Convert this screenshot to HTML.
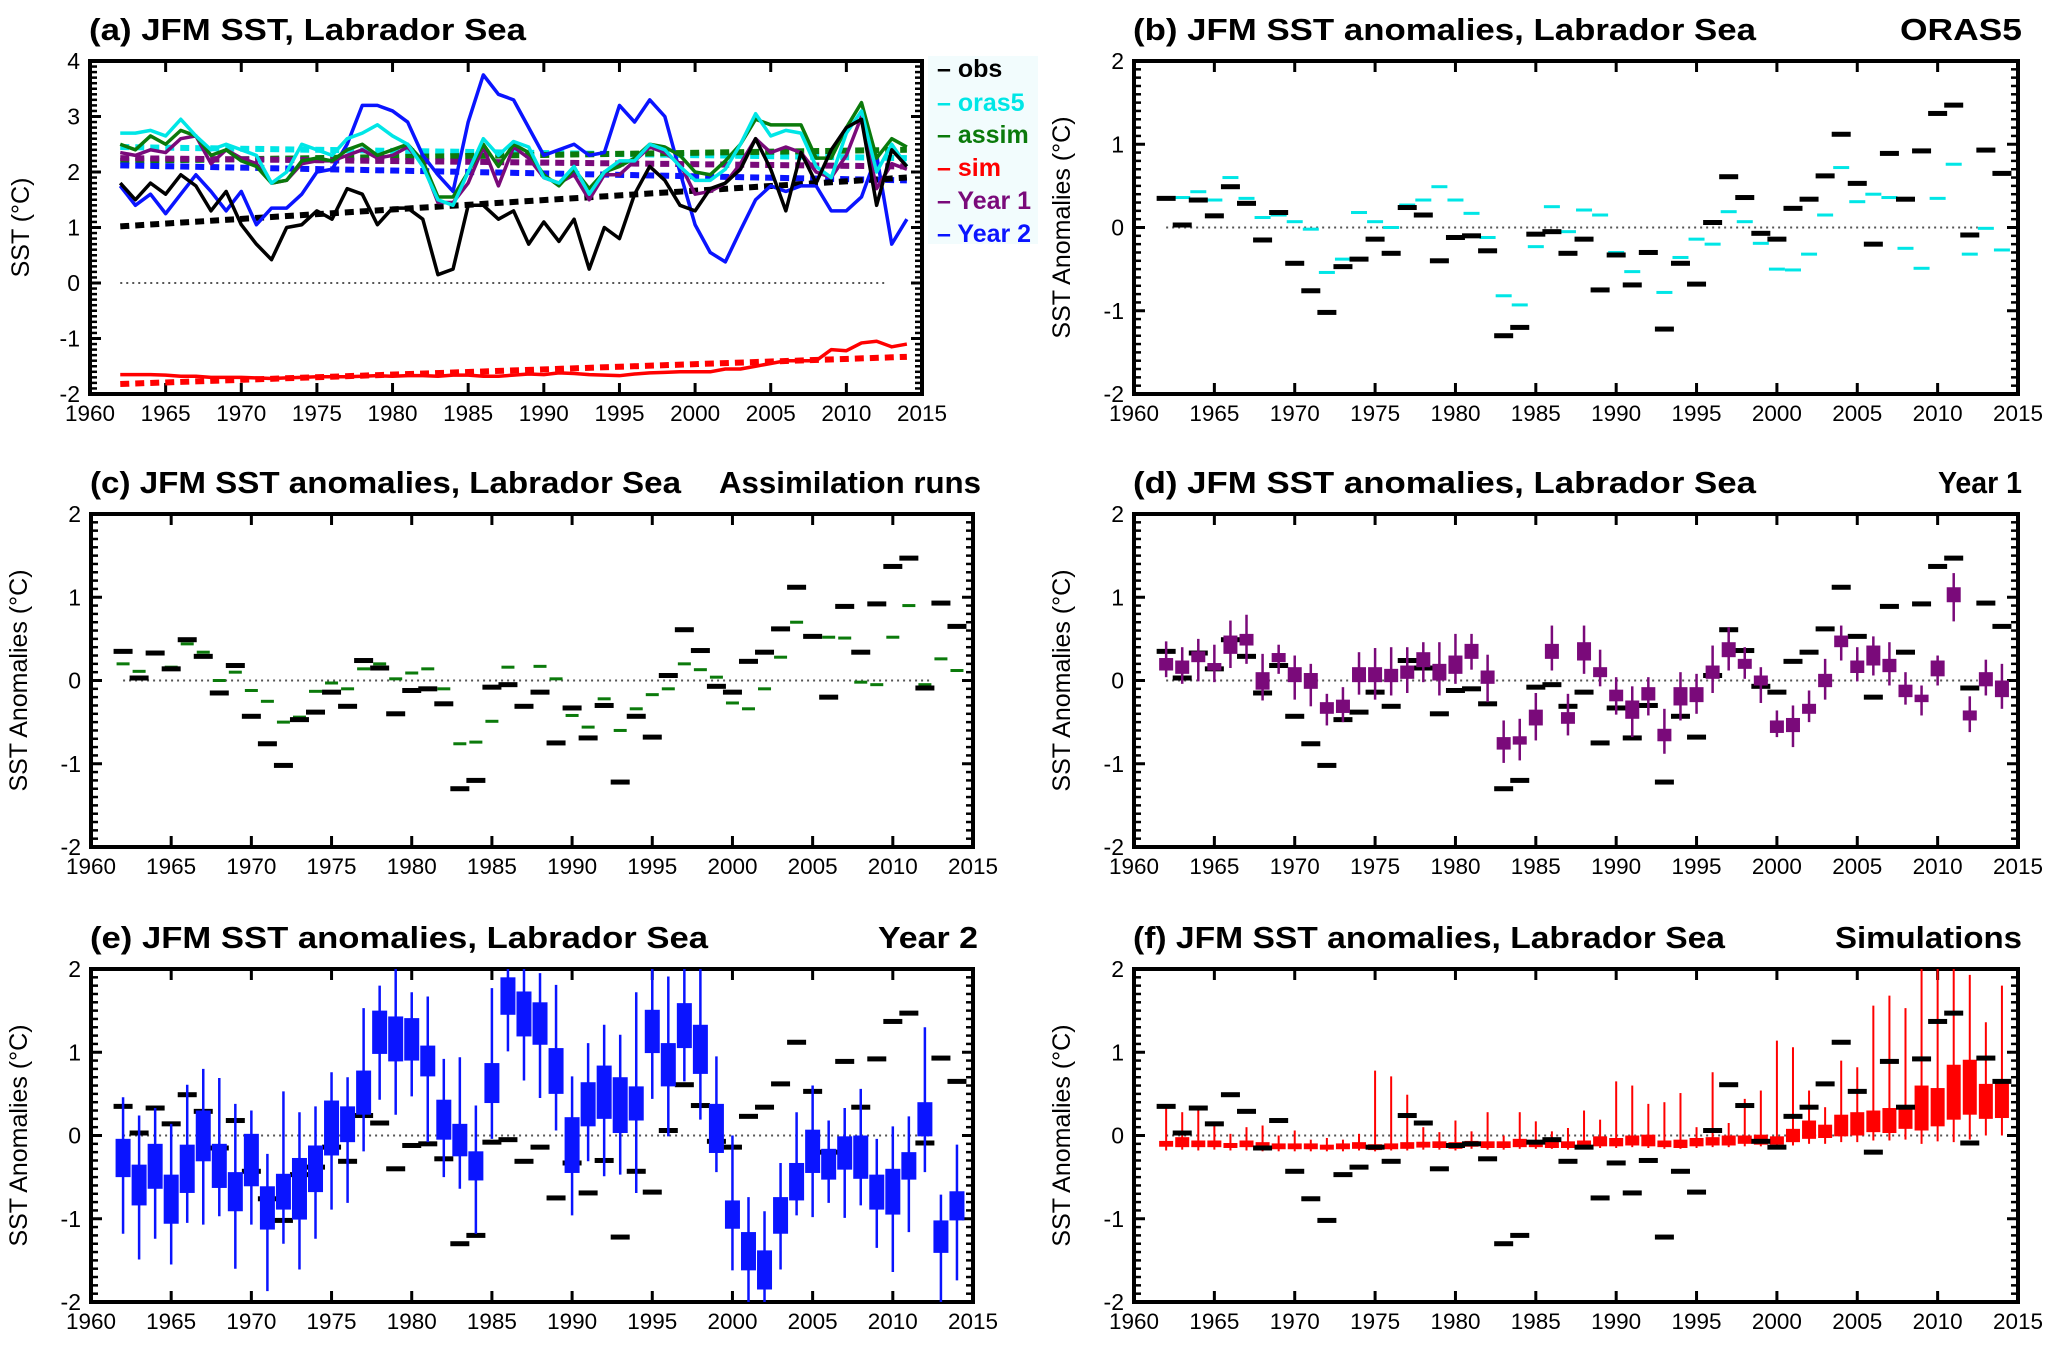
<!DOCTYPE html>
<html><head><meta charset="utf-8"><style>
html,body{margin:0;padding:0;background:#fff;}
svg{display:block;font-family:"Liberation Sans",sans-serif;}
</style></head><body>
<svg id="fig" width="2067" height="1355" viewBox="0 0 2067 1355" xmlns="http://www.w3.org/2000/svg"></svg>
<script>
// ---- data ----
const years = [1962,1963,1964,1965,1966,1967,1968,1969,1970,1971,1972,1973,1974,1975,1976,1977,1978,1979,1980,1981,1982,1983,1984,1985,1986,1987,1988,1989,1990,1991,1992,1993,1994,1995,1996,1997,1998,1999,2000,2001,2002,2003,2004,2005,2006,2007,2008,2009,2010,2011,2012,2013,2014];
const xTicks = [1960,1965,1970,1975,1980,1985,1990,1995,2000,2005,2010,2015];
const yTicksA = [-2,-1,0,1,2,3,4];
const yTicksAnom = [-2,-1,0,1,2];
// panel (a) absolute SST
const obsAbs = [1.8,1.5,1.8,1.6,1.95,1.75,1.3,1.65,1.05,0.7,0.42,1.0,1.05,1.3,1.15,1.7,1.6,1.05,1.35,1.35,1.15,0.15,0.25,1.4,1.4,1.15,1.3,0.7,1.1,0.75,1.15,0.25,1.0,0.8,1.6,2.1,1.85,1.4,1.3,1.7,1.8,2.05,2.6,2.05,1.3,2.35,1.8,2.4,2.8,2.95,1.4,2.4,2.1];
const orasAbs = [2.7,2.7,2.75,2.65,2.95,2.65,2.4,2.5,2.4,2.3,1.8,2.0,2.5,2.4,2.3,2.6,2.7,2.85,2.65,2.5,2.1,1.5,1.4,2.0,2.6,2.3,2.55,2.45,1.9,1.8,2.1,1.6,2.0,2.2,2.2,2.5,2.4,2.1,1.85,1.85,2.05,2.5,3.05,2.65,2.75,2.7,2.1,1.9,2.7,3.1,2.0,2.5,2.1];
const assimAbs = [2.5,2.4,2.65,2.5,2.75,2.65,2.3,2.4,2.2,2.1,1.8,1.85,2.2,2.25,2.2,2.4,2.5,2.3,2.4,2.5,2.2,1.55,1.55,2.0,2.5,2.1,2.5,2.35,1.95,1.75,2.05,1.7,2.0,2.1,2.25,2.5,2.45,2.3,2.0,1.95,2.2,2.5,2.95,2.85,2.85,2.85,2.25,2.25,2.8,3.25,2.25,2.6,2.45];
const simAbs = [-1.65,-1.65,-1.65,-1.66,-1.68,-1.68,-1.7,-1.7,-1.7,-1.71,-1.72,-1.71,-1.7,-1.69,-1.69,-1.69,-1.68,-1.67,-1.68,-1.67,-1.67,-1.68,-1.66,-1.66,-1.68,-1.68,-1.66,-1.64,-1.65,-1.62,-1.63,-1.65,-1.66,-1.67,-1.64,-1.62,-1.61,-1.6,-1.6,-1.6,-1.55,-1.55,-1.5,-1.45,-1.4,-1.4,-1.4,-1.2,-1.22,-1.08,-1.05,-1.15,-1.1];
const y1Abs = [2.35,2.3,2.4,2.35,2.6,2.65,2.15,2.4,2.25,2.15,1.8,1.85,2.15,2.2,2.2,2.3,2.4,2.25,2.3,2.45,2.15,1.45,1.45,1.8,2.45,1.75,2.45,2.25,1.9,1.8,1.95,1.5,1.95,1.95,2.2,2.45,2.35,2.15,1.6,1.65,1.8,2.15,2.6,2.35,2.45,2.35,2.0,1.9,2.3,3.0,1.7,2.15,2.05];
const y2Abs = [1.75,1.4,1.6,1.25,1.6,1.95,1.65,1.3,1.65,1.05,1.35,1.35,1.6,2.0,2.05,2.5,3.2,3.2,3.1,2.9,2.3,1.95,1.65,2.9,3.75,3.4,3.3,2.8,2.3,2.4,2.5,2.3,2.35,3.2,2.9,3.3,3.0,2.0,1.05,0.55,0.38,0.95,1.5,1.75,1.65,1.75,1.75,1.3,1.3,1.55,2.3,0.7,1.15];
// linear trend endpoints (1962, 2014)
const trendObs = [1.02,1.9];
const trendOras = [2.45,2.25];
const trendAssim = [2.2,2.4];
const trendSim = [-1.82,-1.33];
const trendY1 = [2.25,2.1];
const trendY2 = [2.12,1.85];
// anomalies
const obsAnom = [0.35,0.03,0.33,0.14,0.49,0.29,-0.15,0.18,-0.43,-0.76,-1.02,-0.47,-0.38,-0.14,-0.31,0.24,0.15,-0.40,-0.12,-0.10,-0.28,-1.30,-1.20,-0.08,-0.05,-0.31,-0.14,-0.75,-0.33,-0.69,-0.30,-1.22,-0.43,-0.68,0.06,0.61,0.36,-0.07,-0.14,0.23,0.34,0.62,1.12,0.53,-0.20,0.89,0.34,0.92,1.37,1.47,-0.09,0.93,0.65];
const orasAnom = [0.35,0.36,0.43,0.33,0.60,0.35,0.12,0.15,0.07,-0.02,-0.54,-0.38,0.18,0.07,0.00,0.27,0.33,0.49,0.33,0.17,-0.12,-0.82,-0.93,-0.23,0.25,-0.05,0.21,0.15,-0.30,-0.53,-0.30,-0.78,-0.36,-0.14,-0.20,0.19,0.07,-0.19,-0.50,-0.51,-0.32,0.15,0.72,0.31,0.40,0.36,-0.25,-0.49,0.35,0.76,-0.32,-0.01,-0.27];
const assimAnom = [0.20,0.11,0.33,0.16,0.44,0.34,0.00,0.10,-0.12,-0.25,-0.50,-0.44,-0.13,-0.03,-0.10,0.14,0.20,0.02,0.09,0.14,-0.10,-0.76,-0.74,-0.49,0.16,-0.31,0.17,0.02,-0.42,-0.56,-0.22,-0.60,-0.34,-0.17,-0.10,0.20,0.13,0.04,-0.27,-0.34,-0.10,0.28,0.70,0.53,0.52,0.51,-0.02,-0.05,0.52,0.90,-0.05,0.26,0.12];
// Year 1 ensemble: box top/bottom, whisker top/bottom
const y1BoxHi = [0.27,0.24,0.35,0.21,0.54,0.56,0.10,0.33,0.16,0.09,-0.26,-0.23,0.16,0.16,0.14,0.18,0.34,0.20,0.30,0.44,0.12,-0.68,-0.67,-0.35,0.44,-0.38,0.46,0.16,-0.11,-0.24,-0.08,-0.58,-0.08,-0.08,0.18,0.46,0.26,0.06,-0.48,-0.45,-0.28,0.08,0.54,0.24,0.42,0.26,-0.05,-0.17,0.24,1.12,-0.36,0.10,0.00];
const y1BoxLo = [0.12,0.08,0.22,0.12,0.32,0.42,-0.11,0.22,-0.02,-0.10,-0.40,-0.39,-0.02,-0.02,-0.02,0.02,0.16,0.00,0.08,0.26,-0.04,-0.83,-0.77,-0.54,0.26,-0.52,0.24,0.04,-0.25,-0.46,-0.24,-0.73,-0.30,-0.26,0.02,0.28,0.14,-0.06,-0.63,-0.62,-0.40,-0.08,0.40,0.09,0.18,0.10,-0.20,-0.26,0.05,0.94,-0.48,-0.07,-0.20];
const y1Max = [0.47,0.40,0.50,0.43,0.72,0.79,0.32,0.43,0.30,0.20,-0.16,-0.08,0.34,0.39,0.40,0.40,0.46,0.46,0.56,0.56,0.31,-0.48,-0.46,-0.15,0.66,-0.16,0.66,0.37,0.04,-0.07,0.04,-0.34,0.10,0.08,0.42,0.64,0.40,0.16,-0.36,-0.30,-0.12,0.26,0.66,0.40,0.53,0.46,0.10,-0.06,0.30,1.29,-0.19,0.25,0.20];
const y1Min = [0.04,-0.04,-0.01,-0.02,0.15,0.20,-0.24,0.08,-0.23,-0.31,-0.54,-0.50,-0.17,-0.23,-0.18,-0.15,-0.02,-0.18,-0.04,0.13,-0.26,-0.99,-0.96,-0.72,0.12,-0.66,0.08,-0.07,-0.41,-0.68,-0.42,-0.88,-0.48,-0.40,-0.15,0.12,0.02,-0.27,-0.68,-0.80,-0.50,-0.23,0.24,-0.01,0.06,-0.06,-0.29,-0.42,-0.06,0.71,-0.62,-0.18,-0.34];
// Year 2 ensemble
const y2BoxHi = [-0.04,-0.35,-0.10,-0.47,-0.11,0.30,-0.10,-0.44,0.02,-0.61,-0.46,-0.27,-0.12,0.42,0.35,0.78,1.50,1.43,1.41,1.08,0.43,0.14,-0.19,0.87,1.90,1.73,1.60,1.05,0.22,0.64,0.84,0.70,0.59,1.51,1.11,1.59,1.33,0.38,-0.78,-1.16,-1.38,-0.74,-0.33,0.07,-0.16,-0.01,0.00,-0.47,-0.40,-0.20,0.40,-1.02,-0.67];
const y2BoxLo = [-0.50,-0.84,-0.64,-1.06,-0.69,-0.31,-0.63,-0.91,-0.61,-1.13,-0.89,-1.01,-0.68,-0.24,-0.08,0.25,0.98,0.89,0.90,0.71,-0.05,-0.25,-0.54,0.39,1.45,1.19,1.09,0.50,-0.45,0.11,0.20,0.03,0.18,0.99,0.59,1.05,0.74,-0.21,-1.12,-1.62,-1.85,-1.18,-0.78,-0.45,-0.53,-0.41,-0.52,-0.89,-0.95,-0.53,-0.01,-1.41,-1.02];
const y2Max = [0.46,0.24,0.33,0.14,0.61,0.80,0.69,0.38,0.30,-0.22,0.53,0.28,0.35,0.76,0.70,1.53,1.80,2.00,1.72,1.67,0.92,0.94,0.36,1.77,2.00,2.00,1.95,1.81,0.71,1.11,1.33,1.21,1.72,2.00,1.91,2.00,2.00,0.95,0.00,-0.74,-0.91,-0.33,0.28,0.60,0.18,0.33,0.56,-0.04,0.11,0.23,1.30,-0.71,-0.11];
const y2Min = [-1.18,-1.49,-1.24,-1.55,-1.05,-1.07,-0.97,-1.60,-1.07,-1.87,-1.30,-1.61,-1.24,-0.89,-0.81,-0.19,0.43,0.25,0.47,-0.08,-0.50,-0.64,-1.18,-0.04,1.01,0.66,0.45,0.06,-0.96,-0.31,-0.49,-0.47,-0.69,0.44,-0.01,0.65,0.19,-0.44,-1.62,-2.00,-2.00,-1.61,-0.96,-0.98,-0.81,-0.99,-0.84,-1.35,-1.64,-1.16,-0.44,-2.00,-1.74];
// Simulations ensemble
const simMid = [-0.10,-0.08,-0.10,-0.10,-0.12,-0.10,-0.12,-0.13,-0.13,-0.13,-0.14,-0.13,-0.12,-0.14,-0.13,-0.12,-0.11,-0.11,-0.12,-0.10,-0.11,-0.11,-0.09,-0.10,-0.10,-0.11,-0.10,-0.07,-0.08,-0.06,-0.06,-0.10,-0.10,-0.08,-0.07,-0.06,-0.05,-0.05,-0.06,0.00,0.07,0.05,0.12,0.14,0.17,0.18,0.20,0.33,0.34,0.52,0.58,0.41,0.42];
const simHalf = [0.035,0.06,0.04,0.04,0.03,0.04,0.04,0.035,0.035,0.035,0.03,0.035,0.04,0.035,0.035,0.04,0.035,0.04,0.04,0.035,0.04,0.04,0.05,0.04,0.05,0.04,0.04,0.06,0.05,0.06,0.07,0.04,0.05,0.05,0.05,0.06,0.05,0.06,0.05,0.08,0.11,0.08,0.13,0.14,0.13,0.15,0.12,0.27,0.23,0.33,0.33,0.21,0.21];
const simMax = [0.34,0.28,0.34,0.13,0.02,0.10,0.12,0.00,0.06,-0.05,-0.03,-0.05,0.02,0.78,0.71,0.49,0.10,0.04,0.18,0.05,0.28,0.00,0.28,0.17,0.05,0.09,0.30,0.19,0.65,0.60,0.38,0.40,0.51,0.10,0.76,0.15,0.44,0.54,1.14,1.06,0.54,0.34,0.90,0.82,1.56,1.68,1.53,2.10,2.10,2.10,1.93,1.36,1.80];
const simMin = [-0.18,-0.17,-0.18,-0.17,-0.18,-0.18,-0.19,-0.19,-0.19,-0.19,-0.19,-0.19,-0.18,-0.19,-0.18,-0.18,-0.17,-0.17,-0.18,-0.16,-0.17,-0.17,-0.16,-0.16,-0.16,-0.17,-0.16,-0.15,-0.15,-0.14,-0.15,-0.16,-0.16,-0.15,-0.14,-0.14,-0.13,-0.13,-0.13,-0.12,-0.10,-0.10,-0.08,-0.08,-0.06,-0.06,-0.05,-0.10,-0.07,-0.08,-0.05,0.00,0.00];

// ---- drawing ----
const NS = 'http://www.w3.org/2000/svg';
const svg = document.getElementById('fig');
function mk(tag, parent){ const e=document.createElementNS(NS,tag); parent.appendChild(e); return e; }
function set(e, a){ for(const k in a) e.setAttribute(k,a[k]); return e; }

const panels = {
  a:{x0:90,x1:922,y0:61,y1:394,ymin:-2,ymax:4,yt:yTicksA},
  b:{x0:1134,x1:2018,y0:61,y1:394,ymin:-2,ymax:2,yt:yTicksAnom},
  c:{x0:91,x1:973,y0:514,y1:847,ymin:-2,ymax:2,yt:yTicksAnom},
  d:{x0:1134,x1:2018,y0:514,y1:847,ymin:-2,ymax:2,yt:yTicksAnom},
  e:{x0:91,x1:973,y0:969,y1:1302,ymin:-2,ymax:2,yt:yTicksAnom},
  f:{x0:1134,x1:2018,y0:969,y1:1302,ymin:-2,ymax:2,yt:yTicksAnom}
};
function X(P,yr){ return P.x0+(yr-1960)/55*(P.x1-P.x0); }
function Y(P,v){ return P.y1-(v-P.ymin)/(P.ymax-P.ymin)*(P.y1-P.y0); }

function frame(key, yTitle){
  const P=panels[key];
  const g=mk('g',svg);
  
  
  const cp=mk('clipPath',svg); cp.setAttribute('id','clip-'+key);
  set(mk('rect',cp),{x:P.x0,y:P.y0,width:P.x1-P.x0,height:P.y1-P.y0});
  const z=mk('line',g);
  set(z,{x1:X(P,1962),x2:X(P,2012.5),y1:Y(P,0),y2:Y(P,0),stroke:'#555','stroke-width':2,'stroke-dasharray':'2 4'});
  
  
  xTicks.forEach(t=>{
    const x=X(P,t);
    if(t>1960&&t<2015){
      set(mk('line',g),{x1:x,x2:x,y1:P.y0,y2:P.y0+11,stroke:'#000','stroke-width':3});
      set(mk('line',g),{x1:x,x2:x,y1:P.y1,y2:P.y1-11,stroke:'#000','stroke-width':3});
    }
    const tx=mk('text',g);
    set(tx,{x:x,y:P.y1+27,'text-anchor':'middle','font-size':22,textLength:50,lengthAdjust:'spacingAndGlyphs'});
    tx.textContent=t;
    
    
  });
  for(let v=P.ymin; v<=P.ymax+1e-9; v+=0.1){
    const y=Y(P,v);
    const major=Math.abs(v-Math.round(v))<1e-6;
    const L=major?11:7;
    set(mk('line',g),{x1:P.x0,x2:P.x0+L,y1:y,y2:y,stroke:'#000','stroke-width':major?3:2.5});
    set(mk('line',g),{x1:P.x1,x2:P.x1-L,y1:y,y2:y,stroke:'#000','stroke-width':major?3:2.5});
  }
  P.yt.forEach(v=>{
    const tx=mk('text',g);
    set(tx,{x:P.x0-10,y:Y(P,v)+8,'text-anchor':'end','font-size':23});
    tx.textContent=v;
    
    
  });
  const r=mk('rect',g);
  set(r,{x:P.x0,y:P.y0,width:P.x1-P.x0,height:P.y1-P.y0,fill:'none',stroke:'#000','stroke-width':4});
  
  
  const yt=mk('text',g);
  const cx=P.x0-(key==='a'?61:64), cy=(P.y0+P.y1)/2;
  set(yt,{x:cx,y:cy,'text-anchor':'middle','font-size':25,transform:`rotate(-90 ${cx} ${cy})`});
  yt.textContent=yTitle;
  
  
}
function title(key, left, right, x1L, x1R, xR0){
  const P=panels[key];
  const t=mk('text',svg);
  set(t,{x:P.x0-1,y:P.y0-21,'font-size':31,'font-weight':'bold',textLength:x1L-P.x0,lengthAdjust:'spacingAndGlyphs'});
  t.textContent=left;
  
  
  if(right){
    const t2=mk('text',svg);
    set(t2,{x:xR0,y:P.y0-21,'font-size':31,'font-weight':'bold',textLength:x1R-xR0,lengthAdjust:'spacingAndGlyphs'});
    t2.textContent=right;
    
    
  }
}
function line(key, vals, color, w, name){
  const P=panels[key];
  const p=mk('polyline',svg);
  set(p,{points:vals.map((v,i)=>X(P,years[i])+','+Y(P,v)).join(' '),fill:'none',stroke:color,'stroke-width':w,'stroke-linejoin':'round','clip-path':`url(#clip-${key})`});
  
  
}
function trend(key, ends, color, name){
  const P=panels[key];
  const l=mk('line',svg);
  set(l,{x1:X(P,1962),x2:X(P,2014),y1:Y(P,ends[0]),y2:Y(P,ends[1]),stroke:color,'stroke-width':6,'stroke-dasharray':'9 6'});
  
  
}
function dashes(key, vals, color, w, h, name){
  const P=panels[key];
  const g=mk('g',svg);
  
  
  vals.forEach((v,i)=>{
    const r=mk('rect',g);
    set(r,{x:X(P,years[i])-w/2,y:Y(P,v)-h/2,width:w,height:h,fill:color});
    
    
  });
}
function boxes(key, lo, hi, mn, mx, color, bw, ww, name){
  const P=panels[key];
  const g=mk('g',svg);
  g.setAttribute('clip-path',`url(#clip-${key})`);
  
  
  years.forEach((yr,i)=>{
    const x=X(P,yr);
    const wl=mk('line',g);
    set(wl,{x1:x,x2:x,y1:Y(P,mx[i]),y2:Y(P,mn[i]),stroke:color,'stroke-width':ww});
    
    
    const b=mk('rect',g);
    set(b,{x:x-bw/2,y:Y(P,hi[i]),width:bw,height:Math.max(2,Y(P,lo[i])-Y(P,hi[i])),fill:color});
    
    
  });
}

const CY='#00e6e6', GR='#0b7a0b', PU='#7a0a7a', BL='#0a14ff', RD='#ff0000';
frame('a','SST (°C)');
title('a','(a)  JFM SST, Labrador Sea',null,527);
const leg=mk('rect',svg);
set(leg,{x:928,y:56,width:110,height:188,fill:'#f2fcfd'});


trend('a',trendOras,CY,'oras5-trend');
trend('a',trendAssim,GR,'assim-trend');
trend('a',trendY1,PU,'year1-trend');
trend('a',trendY2,BL,'year2-trend');
trend('a',trendObs,'#000','obs-trend');
trend('a',trendSim,RD,'sim-trend');
line('a',y2Abs,BL,3.5,'year2-line');
line('a',y1Abs,PU,3.5,'year1-line');
line('a',assimAbs,GR,3.5,'assim-line');
line('a',orasAbs,CY,3.5,'oras5-line');
line('a',obsAbs,'#000',3.5,'obs-line');
line('a',simAbs,RD,3.5,'sim-line');
[['obs','#000',68],['oras5',CY,102],['assim',GR,134],['sim',RD,167],['Year 1',PU,200],['Year 2',BL,233]].forEach(e=>{
  const t=mk('text',svg);
  set(t,{x:937,y:e[2]+9,'font-size':25,'font-weight':'bold',fill:e[1]});
  t.textContent='– '+e[0];
  
  
});
frame('b','SST Anomalies (°C)');
title('b','(b)  JFM SST anomalies, Labrador Sea','ORAS5',1757,2022,1900);
dashes('b',orasAnom,CY,16,3,'oras5-anomaly');
dashes('b',obsAnom,'#000',19,5,'obs-anomaly');
frame('c','SST Anomalies (°C)');
title('c','(c)  JFM SST anomalies, Labrador Sea','Assimilation runs',682,981,719);
dashes('c',assimAnom,GR,13,3,'assim-anomaly');
dashes('c',obsAnom,'#000',19,5,'obs-anomaly');
frame('d','SST Anomalies (°C)');
title('d','(d)  JFM SST anomalies, Labrador Sea','Year 1',1757,2022,1938);
dashes('d',obsAnom,'#000',19,5,'obs-anomaly');
boxes('d',y1BoxLo,y1BoxHi,y1Min,y1Max,PU,14,2.5,'year1-ensemble');
frame('e','SST Anomalies (°C)');
title('e','(e)  JFM SST anomalies, Labrador Sea','Year 2',709,978,878);
dashes('e',obsAnom,'#000',19,5,'obs-anomaly');
boxes('e',y2BoxLo,y2BoxHi,y2Min,y2Max,BL,15,2.5,'year2-ensemble');
frame('f','SST Anomalies (°C)');
title('f','(f)  JFM SST anomalies, Labrador Sea','Simulations',1726,2022,1835);
const fLo=simMid.map((m,i)=>m-simHalf[i]), fHi=simMid.map((m,i)=>m+simHalf[i]);
boxes('f',fLo,fHi,simMin,simMax,RD,14,2,'sim-ensemble');
dashes('f',obsAnom,'#000',19,5,'obs-anomaly');
</script>
</body></html>
